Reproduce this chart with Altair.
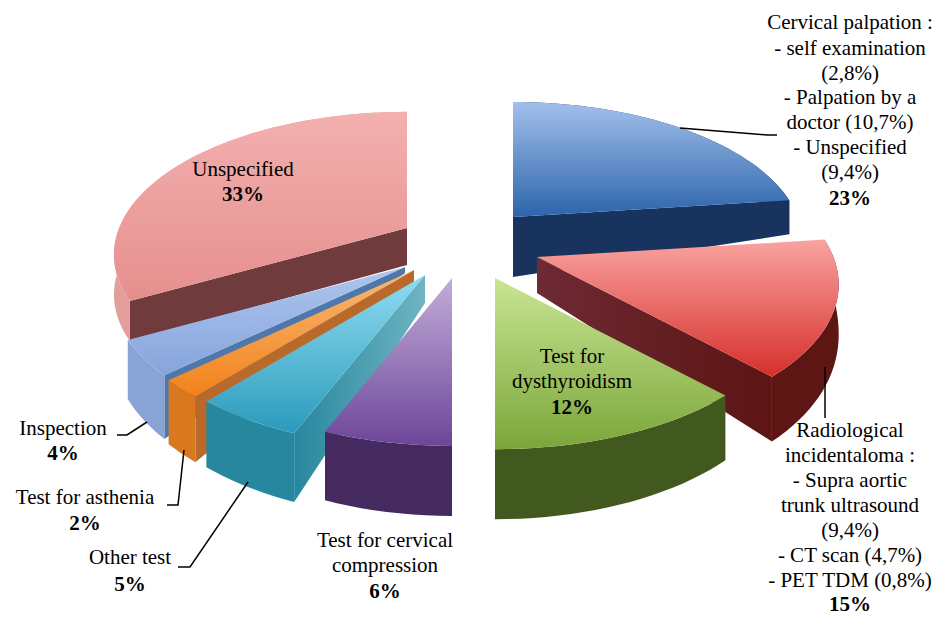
import math
import altair as alt
import pandas as pd

# ---- chart values ----
categories = ["Cervical palpation", "Radiological incidentaloma", "Test for dysthyroidism",
              "Test for cervical compression", "Other test", "Test for asthenia",
              "Inspection", "Unspecified"]
shares = [23, 15, 12, 6, 5, 2, 4, 33]

# ---- layout and style (image pixels) ----
W, H, M = 943, 617, 8
R, B, K = 285.0, 136.5, 0.187            # 3D pie: radius across, radius in depth, perspective
radius_mult = [1.0, 1.04, 1.02, 1.0, 1.03, 1.03, 1.01, 1.01]
apex_x = [513, 537, 495, 452, 425, 414, 405, 407]
apex_y = [217, 257, 278, 278, 275, 270, 267, 228]
apex_depth = [60, 36, 0, 0, 28, 12, 6, 37]
rim_flat = [None, None, None, None, None, None, None, 40]
top_stops = [("#a3c0ec", "#2c64ab"), ("#f9a3a0", "#d62f2b"), ("#c9e593", "#7ba63a"),
             ("#c3acd9", "#6c4699"), ("#8fdcf2", "#2b9abb"), ("#f9b877", "#f28219"),
             ("#aec6ef", "#86a4dc"), ("#f3b0af", "#e58f8d")]
rim_color = ["#17335e", "#5e1614", "#41591f", "#442a5f", "#27879f", "#d9791f", "#8aa3d6", "#e39d9b"]
face_color = [("#17335e", "#17335e"), ("#6e2a35", "#5c1513"), ("#41591f", "#41591f"),
              ("#442a5f", "#442a5f"), ("#27879f", "#6fb4c2"), ("#b9692a", "#b9692a"),
              ("#4f77aa", "#4f77aa"), ("#6f3b3c", "#6f3b3c")]

FONT_SIZE = 21
label_lines = [
    ("Cervical palpation :", 850, 23, False), ("- self examination", 850, 49, False),
    ("(2,8%)", 850, 74, False), ("- Palpation by a", 850, 98, False),
    ("doctor (10,7%)", 850, 123, False), ("- Unspecified", 850, 148, False),
    ("(9,4%)", 850, 173, False), ("23%", 850, 199, True),
    ("Radiological", 850, 431, False), ("incidentaloma :", 850, 456, False),
    ("- Supra aortic", 850, 481, False), ("trunk ultrasound", 850, 506, False),
    ("(9,4%)", 850, 531, False), ("- CT scan (4,7%)", 850, 556, False),
    ("- PET TDM (0,8%)", 850, 581, False), ("15%", 850, 605, True),
    ("Test for", 572, 357, False), ("dysthyroidism", 572, 382, False), ("12%", 572, 408, True),
    ("Test for cervical", 385, 541, False), ("compression", 385, 566, False), ("6%", 385, 592, True),
    ("Other test", 130, 558, False), ("5%", 130, 585, True),
    ("Test for asthenia", 85, 498, False), ("2%", 85, 524, True),
    ("Inspection", 63, 429, False), ("4%", 63, 454, True),
    ("Unspecified", 243, 170, False), ("33%", 243, 195, True),
]
leaders = {
    "blue": [(680, 128), (767, 135), (777, 135)],
    "red": [(825, 367), (825, 418)],
    "cyan": [(178, 567), (190, 567), (248, 482)],
    "orange": [(167, 505), (178, 505), (184, 450)],
    "inspection": [(117, 435), (127, 435), (147, 422)],
}


def rim_point(ax, ay, deg, m):
    t = math.radians(deg)
    z = math.cos(t)
    s = m / (1 + K * z)
    return ax + R * math.sin(t) * s, ay - B * z * s, z


def rim_depth(z, flat):
    if flat is not None:
        return flat
    return 34 + 36 * math.sqrt(max(0.0, -z))


def feature(points):
    ring = [list(p) for p in points]
    ring.append(ring[0])
    return {"type": "Feature", "properties": {},
            "geometry": {"type": "Polygon", "coordinates": [ring]}}


def shape(points, fill):
    return (alt.Chart(alt.Data(values=[feature(points)]))
            .mark_geoshape(fill=fill, strokeWidth=0)
            .project(type="identity", scale=1, translate=[-M, -M]))


def gradient(c0, c1, vertical=True):
    return alt.LinearGradient(gradient="linear", x1=0, y1=0,
                              x2=0 if vertical else 1, y2=1 if vertical else 0,
                              stops=[alt.GradientStop(color=c0, offset=0),
                                     alt.GradientStop(color=c1, offset=1)])


xs = alt.X("x:Q", axis=None, scale=alt.Scale(domain=[M, W - M], range=[0, W - 2 * M]))
ys = alt.Y("y:Q", axis=None, scale=alt.Scale(domain=[M, H - M], range=[0, H - 2 * M]))

slices = []
start = 0.0
for i, v in enumerate(shares):
    end = start + v * 3.6
    slices.append((i, start, end))
    start = end

layers = []
order = [7, 6, 5, 4, 3, 0, 1, 2]
for i, a0, a1 in sorted(slices, key=lambda s: order.index(s[0])):
    ax, ay = apex_x[i], apex_y[i]
    n = max(4, int((a1 - a0) / 2))
    rim = [rim_point(ax, ay, a0 + (a1 - a0) * j / n, radius_mult[i]) for j in range(n + 1)]
    low = [(x, y + rim_depth(z, rim_flat[i])) for x, y, z in rim]
    top = [(x, y) for x, y, _ in rim]
    ap_low = (ax, ay + apex_depth[i])
    face = gradient(face_color[i][0], face_color[i][1], vertical=False)
    if a0 >= 180:
        layers.append(shape([(ax, ay), top[0], low[0], ap_low], face))
    if a1 <= 180:
        layers.append(shape([(ax, ay), top[-1], low[-1], ap_low], face))
    layers.append(shape(top + low[::-1], rim_color[i]))
    layers.append(shape([(ax, ay)] + top, gradient(*top_stops[i])))

leader_df = pd.DataFrame([{"k": k, "o": j, "x": p[0], "y": p[1]}
                          for k, pts in leaders.items() for j, p in enumerate(pts)])
layers.append(alt.Chart(leader_df).mark_line(color="#000000", strokeWidth=1.5, clip=False)
              .encode(x=xs, y=ys, detail="k:N", order="o:Q"))

text_df = pd.DataFrame(label_lines, columns=["t", "x", "y", "b"])
for bold, g in text_df.groupby("b"):
    layers.append(alt.Chart(g).mark_text(font="Liberation Serif", fontSize=FONT_SIZE, color="#000000",
                                         align="center", baseline="middle",
                                         fontWeight="bold" if bold else "normal")
                  .encode(x=xs, y=ys, text="t:N"))

chart = (alt.layer(*layers)
         .properties(width=W - 2 * M, height=H - 2 * M, padding=0, background="#ffffff")
         .configure_view(stroke=None))
chart.save("out.html", embed_options={"renderer": "svg", "actions": False})
